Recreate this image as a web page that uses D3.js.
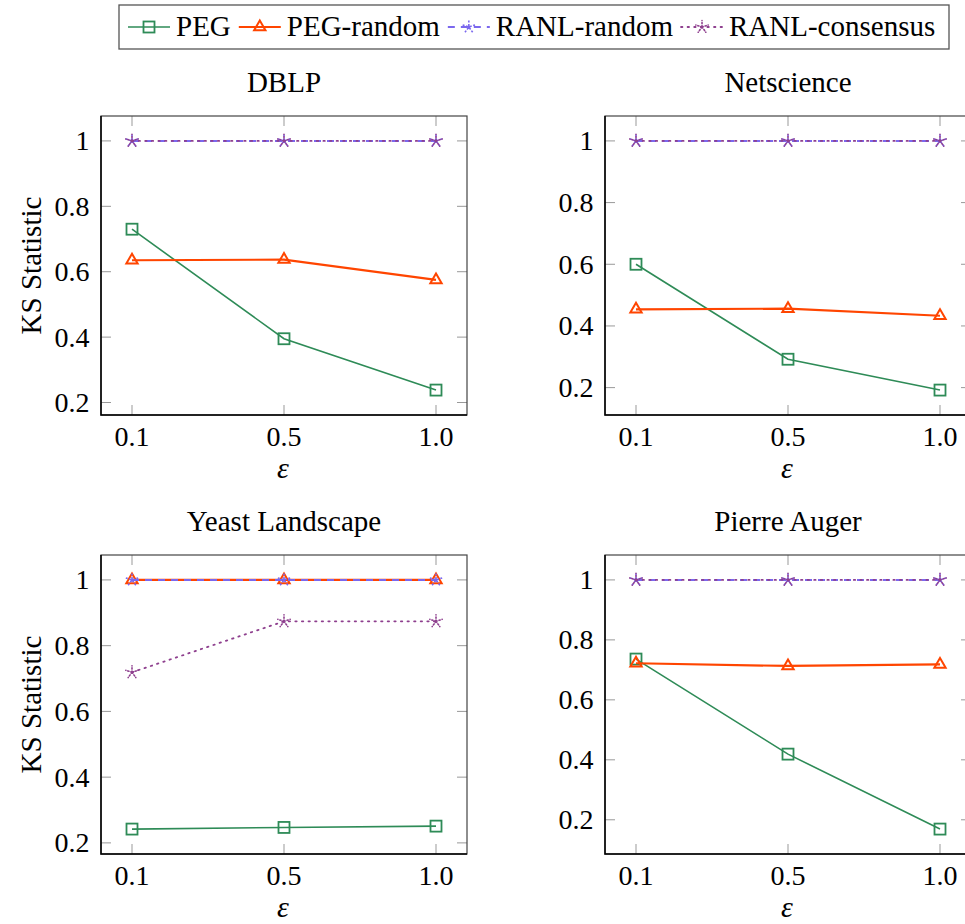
<!DOCTYPE html>
<html>
<head>
<meta charset="utf-8">
<script src="https://cdn.jsdelivr.net/npm/d3@7/dist/d3.min.js"></script>
<style>
  body { margin: 0; background: #fff; }
</style>
</head>
<body>
<svg id="chart" width="965" height="924"></svg>
<script>
// x categories (epsilon) and panels
const eps = ["0.1", "0.5", "1.0"];
const datasets = ["DBLP", "Netscience", "Yeast Landscape", "Pierre Auger"];
const yTicks = [0.2, 0.4, 0.6, 0.8, 1];

// KS statistic per dataset, one row per panel
const pegVals = [
    [0.730, 0.395, 0.238],
    [0.600, 0.292, 0.192],
    [0.242, 0.247, 0.251],
    [0.736, 0.419, 0.169]
];
const pegRandomVals = [
    [0.635, 0.637, 0.575],
    [0.454, 0.456, 0.433],
    [1, 1, 1],
    [0.722, 0.713, 0.718]
];
const ranlRandomVals = [
    [1, 1, 1],
    [1, 1, 1],
    [1, 1, 1],
    [1, 1, 1]
];
const ranlConsensusVals = [
    [1, 1, 1],
    [1, 1, 1],
    [0.719, 0.874, 0.874],
    [1, 1, 1]
];

const series = [
    { name: "PEG", vals: pegVals, color: "#2e8b57", width: 1.6, dash: null, mark: "square" },
    { name: "PEG-random", vals: pegRandomVals, color: "#ff4500", width: 2.2, dash: null, mark: "triangle" },
    { name: "RANL-random", vals: ranlRandomVals, color: "#7b68ee", width: 2, dash: "7,6", mark: "star" },
    { name: "RANL-consensus", vals: ranlConsensusVals, color: "#8e3f8e", width: 1.8, dash: "1.4,5.2", mark: "star" }
];

const FONT = 'Times, "Times New Roman", "Nimbus Roman", "Nimbus Roman No9 L", "FreeSerif", "Noto Serif", "Liberation Serif", "DejaVu Serif", serif';
const svg = d3.select("#chart");
const panelX = [101, 605];
const panelY = [116, 555];
const pw = 366, ph = 299;

function drawMark(g, s, x, y) {
    if (s.mark === "square") {
        g.append("rect").attr("x", x - 5.5).attr("y", y - 5.5)
            .attr("width", 11).attr("height", 11)
            .attr("fill", "none").attr("stroke", s.color).attr("stroke-width", 1.8);
    } else if (s.mark === "triangle") {
        const r = 6.5;
        const pts = [[x, y - r], [x + r * 0.87, y + r * 0.5], [x - r * 0.87, y + r * 0.5]];
        g.append("path").attr("d", "M" + pts.join("L") + "Z")
            .attr("fill", "none").attr("stroke", s.color).attr("stroke-width", 2);
    } else {
        const r = 6.5;
        let d = "";
        for (let k = 0; k < 5; k++) {
            const a = -Math.PI / 2 + k * 2 * Math.PI / 5;
            d += "M" + x + "," + y + "L" + (x + r * Math.cos(a)) + "," + (y + r * Math.sin(a));
        }
        g.append("path").attr("d", d).attr("fill", "none")
            .attr("stroke", s.color).attr("stroke-width", 1.6)
            .attr("stroke-dasharray", s.name === "RANL-random" ? "3,1.5" : "1.2,2")
            .attr("stroke-linecap", s.name === "RANL-random" ? "butt" : "round");
    }
}

function txt(g) {
    return g.append("text").attr("font-family", FONT).attr("fill", "#000");
}

datasets.forEach((name, i) => {
    const x0 = panelX[i % 2], y0 = panelY[Math.floor(i / 2)];
    const g = svg.append("g");

    // pgfplots style: limits enlarged by 10% of the data range
    const all = series.flatMap(s => s.vals[i]);
    const ext = d3.extent(all);
    const pad = (ext[1] - ext[0]) * 0.1;

    const x = d3.scalePoint().domain(eps).range([x0 + 31, x0 + pw - 31]);
    const y = d3.scaleLinear().domain([ext[0] - pad, ext[1] + pad]).range([y0 + ph, y0]);

    // ticks (inward, both sides)
    eps.forEach(e => {
        g.append("line").attr("x1", x(e)).attr("x2", x(e)).attr("y1", y0).attr("y2", y0 + 10)
            .attr("stroke", "#999").attr("stroke-width", 1);
        g.append("line").attr("x1", x(e)).attr("x2", x(e)).attr("y1", y0 + ph).attr("y2", y0 + ph - 10)
            .attr("stroke", "#999").attr("stroke-width", 1);
        txt(g).attr("x", x(e)).attr("y", y0 + ph + 31)
            .attr("text-anchor", "middle").attr("font-size", 28).text(e);
    });
    yTicks.forEach(t => {
        g.append("line").attr("x1", x0).attr("x2", x0 + 10).attr("y1", y(t)).attr("y2", y(t))
            .attr("stroke", "#999").attr("stroke-width", 1);
        g.append("line").attr("x1", x0 + pw).attr("x2", x0 + pw - 10).attr("y1", y(t)).attr("y2", y(t))
            .attr("stroke", "#999").attr("stroke-width", 1);
        txt(g).attr("x", x0 - 11.5).attr("y", y(t) + 9.5)
            .attr("text-anchor", "end").attr("font-size", 28).text(d3.format("~g")(t));
    });

    // frame
    g.append("rect").attr("x", x0).attr("y", y0).attr("width", pw).attr("height", ph)
        .attr("fill", "none").attr("stroke", "#444").attr("stroke-width", 1.2);
    g.append("path").attr("d", `M${x0},${y0}V${y0 + ph}H${x0 + pw}`)
        .attr("fill", "none").attr("stroke", "#000").attr("stroke-width", 1.5);

    // series
    const line = d3.line().x((d, j) => x(eps[j])).y(d => y(d));
    series.forEach(s => {
        g.append("path").attr("d", line(s.vals[i]))
            .attr("fill", "none").attr("stroke", s.color).attr("stroke-width", s.width)
            .attr("stroke-dasharray", s.dash)
            .attr("stroke-linecap", s.dash && s.dash.startsWith("1.4") ? "round" : "butt");
        s.vals[i].forEach((v, j) => drawMark(g, s, x(eps[j]), y(v)));
    });

    // titles and labels
    txt(g).attr("x", x0 + pw / 2).attr("y", y0 - 24.5)
        .attr("text-anchor", "middle").attr("font-size", 29).text(name);
    txt(g).attr("x", x0 + pw / 2 - 1).attr("y", y0 + ph + 63)
        .attr("text-anchor", "middle").attr("font-size", 30).attr("font-style", "italic").text("ε");
    if (i % 2 === 0) {
        txt(g).attr("transform", `translate(41,${y0 + ph / 2}) rotate(-90)`)
            .attr("text-anchor", "middle").attr("font-size", 29).text("KS Statistic");
    }
});

// legend
const leg = svg.append("g");
leg.append("rect").attr("x", 119).attr("y", 5).attr("width", 830).attr("height", 44)
    .attr("fill", "#fff").attr("stroke", "#555").attr("stroke-width", 1.3);
let lx = 128;
series.forEach(s => {
    leg.append("line").attr("x1", lx).attr("x2", lx + 42).attr("y1", 27).attr("y2", 27)
        .attr("stroke", s.color).attr("stroke-width", s.width)
        .attr("stroke-dasharray", s.dash)
        .attr("stroke-linecap", s.dash && s.dash.startsWith("1.4") ? "round" : "butt");
    drawMark(leg, s, lx + 21, 27);
    const t = txt(leg).attr("x", lx + 48).attr("y", 36).attr("font-size", 29).text(s.name);
    lx += 48 + t.node().getComputedTextLength() + 8;
});
</script>
</body>
</html>
